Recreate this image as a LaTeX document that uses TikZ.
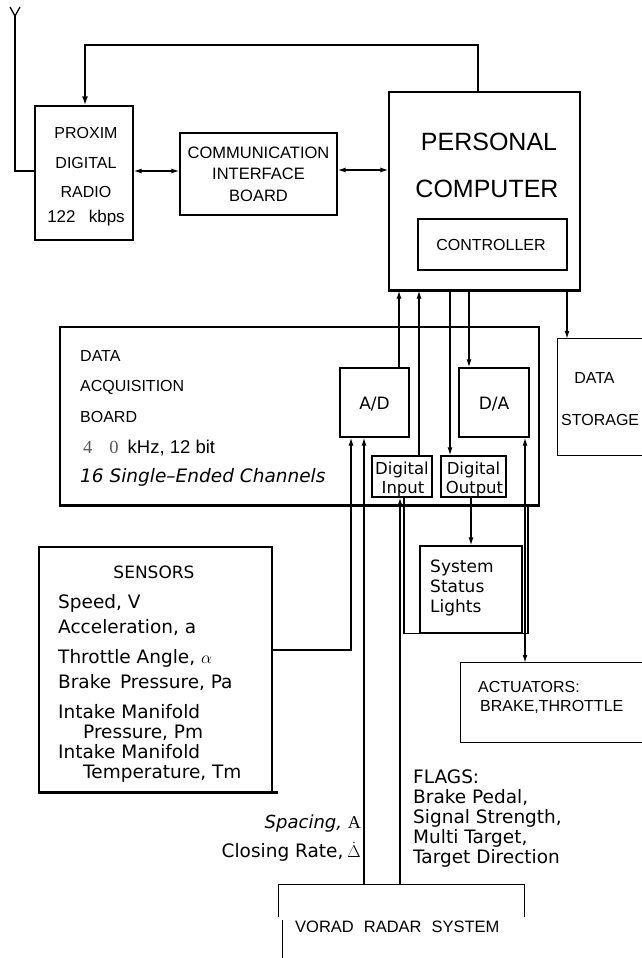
\documentclass[tikz,border=0pt]{standalone}
\usepackage{fontspec}
\setmainfont{Liberation Sans}
\newfontfamily\hv{Liberation Sans}
\newfontfamily\cad{DejaVu Sans}
\newfontfamily\serif{Liberation Serif}
\usetikzlibrary{arrows.meta,calc}
\begin{document}
\begin{tikzpicture}[x=1pt,y=-1pt,
 >={Latex[length=8pt,width=5pt]},
 wire/.style={line width=1.3pt},
 arr/.style={wire,->},
 darr/.style={wire,<->},
 box/.style={draw,line width=1.3pt,inner sep=0pt},
 blank/.style={inner sep=0pt},
 hvt/.style={inner sep=0pt,font=\hv\fontsize{16}{19}\selectfont,text height=11.5pt,text depth=0pt},
 cdt/.style={inner sep=0pt,font=\cad\fontsize{18.5}{20}\selectfont,text height=13pt,text depth=0pt},
 cds/.style={inner sep=0pt,font=\cad\fontsize{16.5}{19}\selectfont,text height=12pt,text depth=0pt},
]
\useasboundingbox (0,0) rectangle (641,958);

% ---------- boxes ----------
\node[box,minimum width=98pt,minimum height=134pt] (proxim) at (84,173) {};
\node[box,minimum width=157pt,minimum height=82pt] (comm) at (258.5,174) {};
\node[box,minimum width=191pt,minimum height=198pt] (pc) at (484.5,191) {};
\node[box,minimum width=149pt,minimum height=51pt] (ctrl) at (492.5,244.5) {};
\node[box,minimum width=479pt,minimum height=178pt] (daq) at (299.5,416) {};
\node[box,minimum width=69pt,minimum height=69pt] (ad) at (374.5,402.5) {};
\node[box,minimum width=70pt,minimum height=69pt] (da) at (494,402.5) {};
\node[box,minimum width=60pt,minimum height=41pt] (din) at (402,476.5) {};
\node[box,minimum width=65pt,minimum height=41pt] (dout) at (473.5,476.5) {};
\node[blank,minimum width=90pt,minimum height=116pt] (stor) at (603,397) {};
\draw[wire] (stor.north east) -- (stor.north west) -- (stor.south west) -- (stor.south east);
\node[box,minimum width=102pt,minimum height=87pt] (status) at (471,589.5) {};
\node[blank,minimum width=190pt,minimum height=79pt] (act) at (556,702.5) {};
\draw[wire] (act.north east) -- (act.north west) -- (act.south west) -- (act.south east);
\node[box,minimum width=233pt,minimum height=245pt] (sens) at (155.5,669.5) {};
\draw[line width=2.8pt] (sens.south west) -- ($(sens.south east)+(5,0)$);
\draw[line width=2.2pt] (daq.south west) -- (daq.south east);
\draw[line width=2.2pt] (pc.south west) -- (pc.south east);
\node[blank,minimum width=245pt,minimum height=90pt] (radar) at (401.5,930) {};
\draw[wire] ($(radar.north west)+(0,32)$) -- (radar.north west) -- (radar.north east) -- ++(0,32);
\draw[wire] ($(radar.north west)+(4,35)$) -- ++(0,45);

% ---------- texts ----------
\node[hvt] (p1) at (86,133) {PROXIM};
\node[hvt] (p2) at (86,163) {DIGITAL};
\node[hvt] (p3) at (86,192) {RADIO};
\node[hvt,font=\hv\fontsize{17}{19}\selectfont] (p4) at (86,217) {122\hspace{0.5em} kbps};

\node[hvt,font=\hv\fontsize{16.5}{19}\selectfont] (c1) at (258.5,153) {COMMUNICATION};
\node[hvt,font=\hv\fontsize{16.5}{19}\selectfont] (c2) at (258.5,174) {INTERFACE};
\node[hvt,font=\hv\fontsize{16.5}{19}\selectfont] (c3) at (258.5,196) {BOARD};

\node[hvt,font=\hv\fontsize{25}{28}\selectfont,text height=18pt] (pc1) at (489,141) {PERSONAL};
\node[hvt,font=\hv\fontsize{25}{28}\selectfont,text height=18pt] (pc2) at (487,188) {COMPUTER};
\node[hvt] (ct) at (491,245) {CONTROLLER};

\node[hvt,anchor=west] (d1) at (80,356) {DATA};
\node[hvt,anchor=west] (d2) at (80,386) {ACQUISITION};
\node[hvt,anchor=west] (d3) at (80,417) {BOARD};
\node[hvt,anchor=west,font=\hv\fontsize{18.5}{20}\selectfont,text height=13pt] (d4) at (83,447)
  {{\serif\color{black!65}4\hspace{17pt}0}\hspace{9pt}kHz, 12 bit};
\node[cdt,anchor=west,font=\cad\itshape\fontsize{18.5}{20}\selectfont] (d5) at (80,476) {16 Single–Ended Channels};

\node[cdt,font=\cad\fontsize{17}{20}\selectfont] (adt) at (374.5,403) {A/D};
\node[cdt,font=\cad\fontsize{17}{20}\selectfont] (dat) at (494,403) {D/A};
\node[cds] (di1) at (402,468) {Digital};
\node[cds] (di2) at (403,487) {Input};
\node[cds] (do1) at (473.5,468) {Digital};
\node[cds] (do2) at (474.5,487) {Output};

\node[hvt] (s1) at (594.5,378) {DATA};
\node[hvt,anchor=west] (s2) at (561,420) {STORAGE};

\node[cdt,anchor=west,font=\cad\fontsize{17}{20}\selectfont] (l1) at (430,566) {System};
\node[cdt,anchor=west,font=\cad\fontsize{17}{20}\selectfont] (l2) at (430,586) {Status};
\node[cdt,anchor=west,font=\cad\fontsize{17}{20}\selectfont] (l3) at (430,606) {Lights};

\node[cdt,font=\cad\fontsize{17}{20}\selectfont] (se0) at (154,572) {SENSORS};
\node[cdt,anchor=west] (se1) at (58,602) {Speed, V};
\node[cdt,anchor=west] (se2) at (58,627) {Acceleration, a};
\node[cdt,anchor=west] (se3) at (58,657) {Throttle Angle, $\alpha$};
\node[cdt,anchor=west] (se4) at (58,682) {Brake\hspace{3pt} Pressure, Pa};
\node[cdt,anchor=west] (se5) at (58,712) {Intake Manifold};
\node[cdt,anchor=west] (se6) at (83,732) {Pressure, Pm};
\node[cdt,anchor=west] (se7) at (58,752) {Intake Manifold};
\node[cdt,anchor=west] (se8) at (83,772) {Temperature, Tm};

\node[hvt,anchor=west] (a1) at (478,687) {ACTUATORS:};
\node[hvt,anchor=west] (a2) at (480,706) {BRAKE,THROTTLE};

\node[cdt,anchor=west] (f1) at (413,777) {FLAGS:};
\node[cdt,anchor=west] (f2) at (413,797) {Brake Pedal,};
\node[cdt,anchor=west] (f3) at (413,817) {Signal Strength,};
\node[cdt,anchor=west] (f4) at (413,837) {Multi Target,};
\node[cdt,anchor=west] (f5) at (413,857) {Target Direction};

\node[cdt,anchor=east,font=\cad\fontsize{18}{20}\selectfont] (sp1) at (361,822) {\itshape Spacing, {\serif\upshape A}};
\node[cdt,anchor=east,font=\cad\fontsize{18.5}{20}\selectfont] (sp2) at (361,851) {Closing Rate,\hspace{4pt}$\dot{\Delta}$};

\node[hvt,anchor=west,font=\hv\fontsize{16.5}{19}\selectfont] (rt) at (295,927) {VORAD\hspace{10pt}RADAR\hspace{10pt}SYSTEM};

% ---------- connectors ----------
\coordinate (ant) at (15,16);
\draw[wire] (10,7) -- (ant) -- (20,7);
\coordinate (r1) at (0,171);
\draw[wire] (ant) -- (ant |- r1) -- (proxim.west |- r1);
\draw[darr] (proxim.east |- r1) -- (comm.west |- r1);
\coordinate (r2) at (0,170);
\draw[darr] (comm.east |- r2) -- (pc.west |- r2);

\coordinate (fbR) at (478,45);
\coordinate (fbL) at (85,45);
\draw[line width=2.6pt,-{Latex[length=9pt,width=6pt]}] (pc.north -| fbR) -- (fbR) -- (fbL) -- (proxim.north -| fbL);

\coordinate (x399) at (399,0);
\coordinate (x418) at (419,0);
\coordinate (x450) at (450,0);
\coordinate (x469) at (469,0);
\coordinate (x567) at (567,0);
\coordinate (x363) at (364,0);
\coordinate (x401) at (400,0);
\coordinate (x404) at (404,0);
\coordinate (x471) at (471,0);
\coordinate (x526) at (525,0);
\coordinate (x528) at (528,0);
\coordinate (sn) at (351,650);

\draw[arr] (ad.north -| x399) -- (pc.south -| x399);
\draw[arr] (din.north -| x418) -- (pc.south -| x418);
\draw[arr] (pc.south -| x450) -- (dout.north -| x450);
\draw[arr] (pc.south -| x469) -- (da.north -| x469);
\draw[arr] (pc.south -| x567) -- (stor.north -| x567);
\draw[arr] (sens.east |- sn) -- (sn) -- (ad.south -| sn);
\draw[arr] (radar.north -| x363) -- (ad.south -| x363);
\draw[arr] (radar.north -| x401) -- (din.south -| x401);
\draw[arr] (dout.south -| x471) -- (status.north -| x471);
\draw[darr] (da.south -| x526) -- (act.north -| x526);
\draw[wire] (din.south -| x404) -- (status.south -| x404) -- (status.south west);
\draw[wire] (status.south east) -- (status.south -| x528) -- (daq.south -| x528);
\end{tikzpicture}
\end{document}
